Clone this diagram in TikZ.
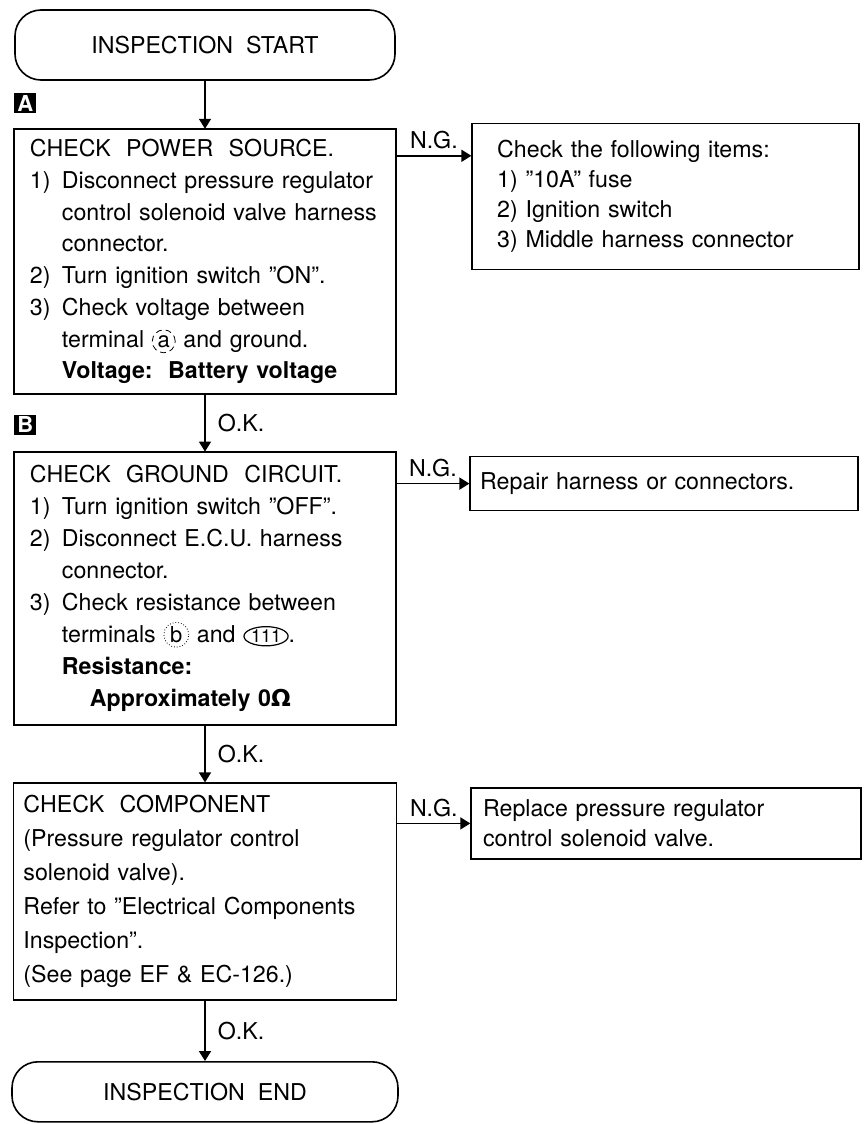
\documentclass[tikz,border=0pt]{standalone}
\usepackage{fontspec}
\setmainfont{TeX Gyre Heros}
\newfontfamily\symfont{DejaVu Sans}
\usepackage{tikz}
\usetikzlibrary{positioning,arrows.meta,shapes.geometric}

\newcommand{\itm}[1]{\makebox[16pt][l]{#1}}
\newcommand{\cnt}{\hspace*{16pt}}
\tikzset{
    termmark/.style={draw, line width=0.4pt, text width={}, align=center, minimum size=0pt, anchor=base, text=black}
}
\newcommand{\terma}{\tikz[baseline=(t.base)]\node[termmark, circle, densely dashed, inner sep=1pt, font=\fontsize{11}{11}\selectfont] (t) {a};}
\newcommand{\termb}{\tikz[baseline=(t.base)]\node[termmark, circle, densely dotted, inner sep=0.8pt, font=\fontsize{11}{11}\selectfont] (t) {b};}
\newcommand{\termn}[1]{\tikz[baseline=(t.base)]\node[termmark, ellipse, line width=0.6pt, inner xsep=0.3pt, inner ysep=0.2pt, font=\fontsize{9}{9}\selectfont] (t) {#1};}

\begin{document}
\begin{tikzpicture}[
    font=\fontsize{11.6}{15.85}\selectfont,
    line width=0.8pt,
    term/.style={rectangle, rounded corners=13pt, draw, minimum width=190pt, minimum height=35pt},
    chk/.style={rectangle, draw, align=left, text width=175pt, inner xsep=8pt, inner ysep=4pt},
    side/.style={rectangle, draw, align=left, inner ysep=4pt},
    tag/.style={fill=black, text=white, font=\bfseries\fontsize{11}{11}\selectfont, inner sep=0pt, minimum width=11pt, minimum height=10pt},
    arr/.style={-{Triangle[length=5pt, width=6pt]}},
    lab/.style={inner sep=3pt}
]

\useasboundingbox (-102.5pt,22.5pt) rectangle (330.5pt,-539.5pt);

\node[term] (start) {INSPECTION\ \ START};

\node[chk, minimum height=132.5pt, below=24pt of start] (chkA) {CHECK\ \ POWER\ \ SOURCE.\\
\itm{1)}Disconnect pressure regulator\\
\cnt control solenoid valve harness\\
\cnt connector.\\
\itm{2)}Turn ignition switch ''ON''.\\
\itm{3)}Check voltage between\\
\cnt terminal \terma{} and ground.\\
\cnt\textbf{Voltage:\ \ Battery voltage}};

\node[chk, minimum height=136.5pt, font=\fontsize{11.6}{16}\selectfont, below=28.5pt of chkA] (chkB) {CHECK\ \ GROUND\ \ CIRCUIT.\\
\itm{1)}Turn ignition switch ''OFF''.\\
\itm{2)}Disconnect E.C.U. harness\\
\cnt connector.\\
\itm{3)}Check resistance between\\
\cnt terminals \termb{} and \termn{111}.\\
\cnt\textbf{Resistance:}\\
\hspace*{30pt}\textbf{Approximately 0{\symfont Ω}}};

\node[chk, minimum height=108.5pt, text width=181.5pt, inner xsep=5pt, font=\fontsize{11.6}{17}\selectfont, below=28.5pt of chkB] (chkC) {CHECK\ \ COMPONENT\\
(Pressure regulator control\\
solenoid valve).\\
Refer to ''Electrical Components\\
Inspection''.\\
(See page EF \& EC-126.)};

\node[term, minimum width=193pt, minimum height=30pt, below=30pt of chkC] (stop) {INSPECTION\ \ END};

\node[tag, above right=7.5pt and 0pt of chkA.north west] (tagA) {A};
\node[tag, above right=8pt and 0pt of chkB.north west] (tagB) {B};

\node[side, text width=168.5pt, inner xsep=12.5pt, minimum height=73pt, font=\fontsize{11.6}{15}\selectfont,
      right=37.5pt of chkA.north east, anchor=north west, yshift=3pt] (items) {Check the following items:\\
1) ''10A'' fuse\\
2) Ignition switch\\
3) Middle harness connector};
\node[side, text width=184pt, inner xsep=5pt, minimum height=27pt,
      right=36.5pt of chkB.north east, anchor=west, yshift=-16pt] (rep) {Repair harness or connectors.};
\node[side, text width=183pt, inner xsep=6pt, minimum height=35.5pt, font=\fontsize{11.6}{15}\selectfont,
      right=36.5pt of chkC.north east, anchor=west, yshift=-20.5pt] (repl) {Replace pressure regulator\\
control solenoid valve.};

\coordinate[below=13.5pt of chkA.north east] (ngA);

\draw[arr] (start.south) -- (chkA.north);
\draw[arr] (chkA.south) -- node[lab, right, xshift=3pt] {O.K.} (chkB.north);
\draw[arr] (chkB.south) -- node[lab, right, xshift=3pt] {O.K.} (chkC.north);
\draw[arr] (chkC.south) -- node[lab, right, xshift=3pt] {O.K.} (stop.north);

\draw[arr] (ngA) -- node[lab, above] {N.G.} (ngA -| items.west);
\draw[arr] (chkB.east |- rep.west) -- node[lab, above] {N.G.} (rep.west);
\draw[arr] (chkC.east |- repl.west) -- node[lab, above] {N.G.} (repl.west);

\end{tikzpicture}
\end{document}
